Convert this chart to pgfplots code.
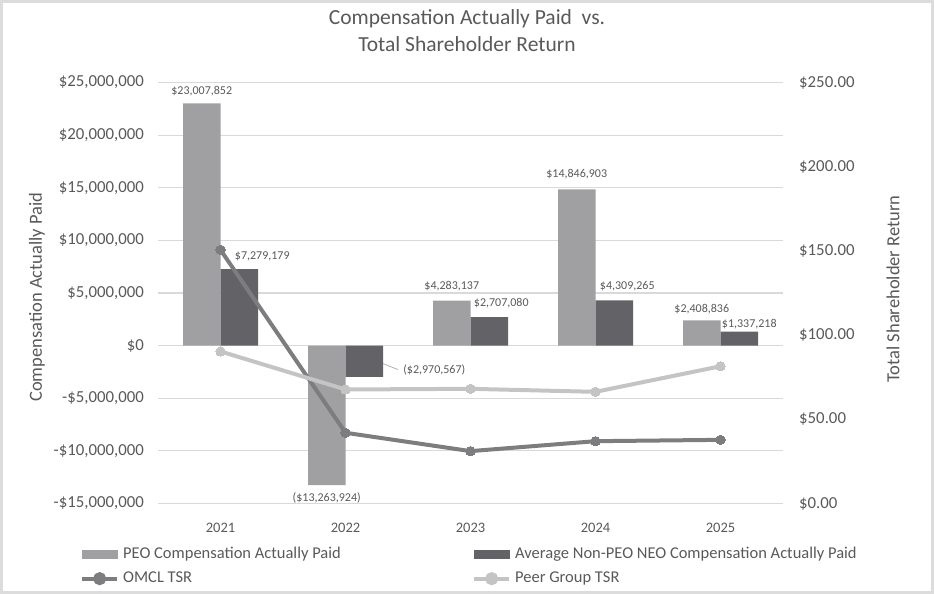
\documentclass[border=0pt]{standalone}
\usepackage{pgfplots}
\pgfplotsset{compat=1.18}
\usepackage{fontspec}
\setmainfont{Carlito}
\definecolor{peo}{HTML}{A0A0A3}
\definecolor{neo}{HTML}{636367}
\definecolor{omcl}{HTML}{7D7D80}
\definecolor{peer}{HTML}{C4C4C4}
\definecolor{txt}{HTML}{595959}
\definecolor{grd}{HTML}{D9D9D9}
\definecolor{frm}{HTML}{DCDCDC}
\begin{document}
\begin{tikzpicture}[x=1pt,y=1pt]
\draw[frm, line width=3pt] (1.5,1.5) rectangle (932.5,592.5);
\begin{axis}[
  at={(158pt,90.5pt)}, anchor=south west,
  scale only axis, width=625pt, height=421pt,
  xmin=-0.5, xmax=4.5, ymin=-15000000, ymax=25000000,
  scaled y ticks=false,
  xtick={0,1,2,3,4}, xticklabels={2021,2022,2023,2024,2025},
  ytick={-15000000,-10000000,-5000000,0,5000000,10000000,15000000,20000000,25000000},
  yticklabels={-\$15{,}000{,}000,-\$10{,}000{,}000,-\$5{,}000{,}000,\$0,\$5{,}000{,}000,\$10{,}000{,}000,\$15{,}000{,}000,\$20{,}000{,}000,\$25{,}000{,}000},
  ymajorgrids, grid style={grd, line width=1.2pt},
  axis line style={draw=none}, major tick length=0pt,
  tick label style={font=\fontsize{16.8}{20}\selectfont, text=txt},
  yticklabel style={inner sep=0pt, anchor=east, xshift=-14pt},
  xticklabel style={inner sep=0pt, anchor=north, yshift=-19pt, font=\fontsize{14.5}{16}\selectfont},
  ylabel={Compensation Actually Paid},
  ylabel style={at={(axis description cs:-0.1936,0.49)}, anchor=center, font=\fontsize{18.5}{22}\selectfont, text=txt},
  ybar, bar width=37.5pt,
  nodes near coords, point meta=explicit symbolic,
  visualization depends on={value \thisrow{dx}\as\dx},
  visualization depends on={value \thisrow{dy}\as\dy},
  every node near coord/.append style={anchor=center, xshift=\dx pt, yshift=\dy pt, font=\fontsize{12}{14}\selectfont, text=txt, inner sep=0pt},
]
\addplot[fill=peo, draw=none, bar shift=-18.75pt] table[x=x, y=y, meta=lab] {
x y lab dx dy
0 23007852 \$23,007,852 0 12
1 -13263924 (\$13,263,924) 0 -12.5
2 4283137 \$4,283,137 0 14
3 14846903 \$14,846,903 0 15
4 2408836 \$2,408,836 0 11
};
\addplot[fill=neo, draw=none, bar shift=18.75pt] table[x=x, y=y, meta=lab] {
x y lab dx dy
0 7279179 \$7,279,179 23 13
1 -2970567 (\$2,970,567) 70 7
2 2707080 \$2,707,080 12 14.4
3 4309265 \$4,309,265 13 14
4 1337218 \$1,337,218 10 7.5
};
\draw[peer!80!black, line width=0.6pt] (axis cs:1.3,-1710000) -- (axis cs:1.42,-2280000);
\end{axis}
\begin{axis}[
  at={(158pt,90.5pt)}, anchor=south west,
  scale only axis, width=625pt, height=421pt,
  xmin=-0.5, xmax=4.5, ymin=0, ymax=250,
  axis x line=none, axis y line*=right,
  axis line style={draw=none}, major tick length=0pt,
  ytick={0,50,100,150,200,250},
  yticklabels={\$0.00,\$50.00,\$100.00,\$150.00,\$200.00,\$250.00},
  tick label style={font=\fontsize{16.8}{20}\selectfont, text=txt},
  yticklabel style={inner sep=0pt, anchor=west, xshift=16pt},
  ylabel={Total Shareholder Return},
  ylabel style={at={(axis description cs:1.176,0.5095)}, anchor=center, font=\fontsize{18.5}{22}\selectfont, text=txt},
  legend columns=2,
  legend style={at={(axis description cs:-0.1248,-0.1021)}, anchor=north west, draw=none, fill=none, inner sep=0pt, column sep=4pt, row sep=8pt,
    font=\fontsize{16.5}{19}\selectfont, text=txt,
    nodes={inner sep=0pt, text height=12pt, text depth=4pt}},
  legend cell align=left,
]
\addlegendimage{legend image code/.code={\fill[peo] (0pt,-4pt) rectangle (35pt,4pt);}}
\addlegendentry{\makebox[345pt][l]{PEO Compensation Actually Paid}}
\addlegendimage{legend image code/.code={\fill[neo] (0pt,-4pt) rectangle (35pt,4pt);}}
\addlegendentry{Average Non-PEO NEO Compensation Actually Paid}
\addplot[omcl, line width=4pt, mark=*, mark size=4.7pt, mark options={fill=omcl, draw=omcl, line width=0pt},
  legend image code/.code={\draw[omcl, line width=4pt] (0pt,0pt) -- (35pt,0pt); \fill[omcl] (17.5pt,0pt) circle (4.5pt);}]
  coordinates {(0,150.6) (1,42.0) (2,31.1) (3,37.0) (4,37.8)};
\addlegendentry{\makebox[345pt][l]{OMCL TSR}}
\addplot[peer, line width=4pt, mark=*, mark size=4.7pt, mark options={fill=peer, draw=peer, line width=0pt},
  legend image code/.code={\draw[peer, line width=4pt] (0pt,0pt) -- (35pt,0pt); \fill[peer] (17.5pt,0pt) circle (4.5pt);}]
  coordinates {(0,90.3) (1,67.7) (2,68.1) (3,66.3) (4,81.5)};
\addlegendentry{Peer Group TSR}
\end{axis}
\node[align=center, text=txt, font=\fontsize{21.5}{27}\selectfont] at (467,563) {Compensation Actually Paid\ \ vs.\\Total Shareholder Return};
\end{tikzpicture}
\end{document}
